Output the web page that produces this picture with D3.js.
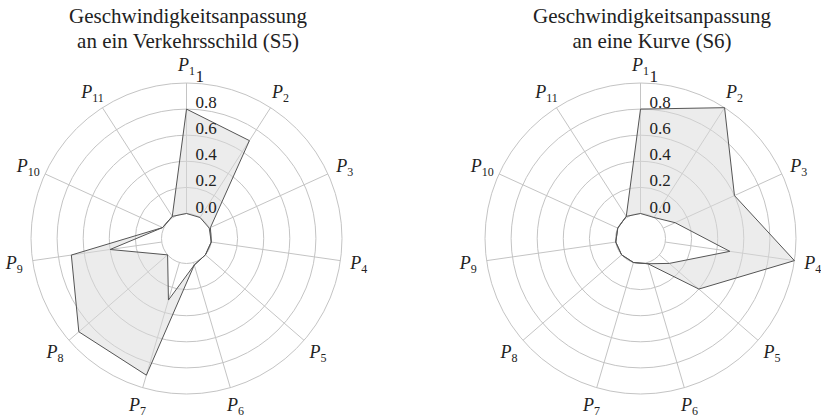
<!DOCTYPE html>
<html>
<head>
<meta charset="utf-8">
<script src="https://cdn.jsdelivr.net/npm/d3@7"></script>
<style>
  body { margin: 0; background: #fff; }
</style>
</head>
<body>
<script>
var categories = ['1', '2', '3', '4', '5', '6', '7', '8', '9', '10', '11'];
var tickValues = [0, 0.2, 0.4, 0.6, 0.8, 1];
var tickLabels = ['0.0', '0.2', '0.4', '0.6', '0.8', '1'];

// S5: Verkehrsschild
var s5Title = ['Geschwindigkeitsanpassung', 'an ein Verkehrsschild (S5)'];
var s5Low  = [0, 0, 0, 0, 0, 0.02, 0.3, 0, 0.4, 0.01, 0.01];
var s5High = [0.8, 0.7, 0.01, 0, 0, 0.02, 0.9, 0.9, 0.7, 0.01, 0.01];

// S6: Kurve
var s6Title = ['Geschwindigkeitsanpassung', 'an eine Kurve (S6)'];
var s6Low  = [0, 0, 0.1, 0.5, 0.1, 0.01, 0, 0, 0, 0, 0.01];
var s6High = [0.8, 1.0, 0.6, 1.0, 0.4, 0.01, 0, 0, 0, 0, 0.01];

var width = 821, height = 417;
var innerR = 25, outerR = 155.5;
var serif = '"Liberation Serif"';

var svg = d3.select('body').append('svg')
  .attr('width', width)
  .attr('height', height);

var angle = d3.scaleLinear()
  .domain([0, categories.length])
  .range([0, 2 * Math.PI]);

var r = d3.scaleLinear()
  .domain([0, 1])
  .range([innerR, outerR]);

var radarLine = d3.lineRadial()
  .angle(function(d, i) { return angle(i); })
  .radius(function(d) { return r(d); })
  .curve(d3.curveLinearClosed);

function drawRadar(cx, cy, titleX, title, low, high) {
  var g = svg.append('g')
    .attr('transform', 'translate(' + cx + ',' + cy + ')');

  // title
  svg.append('text')
    .attr('x', titleX)
    .attr('y', 23)
    .attr('text-anchor', 'middle')
    .style('font-family', serif)
    .style('font-size', '21px')
    .style('fill', '#222')
    .selectAll('tspan')
    .data(title)
    .enter().append('tspan')
      .attr('x', titleX)
      .attr('dy', function(d, i) { return i ? 25 : 0; })
      .text(function(d) { return d; });

  // grid
  g.selectAll('.ring')
    .data(tickValues)
    .enter().append('circle')
      .attr('class', 'ring')
      .attr('r', function(d) { return r(d); })
      .attr('fill', 'none')
      .attr('stroke', '#c4c4c4');

  g.selectAll('.spoke')
    .data(categories)
    .enter().append('line')
      .attr('class', 'spoke')
      .attr('x1', function(d, i) { return r(0) * Math.sin(angle(i)); })
      .attr('y1', function(d, i) { return -r(0) * Math.cos(angle(i)); })
      .attr('x2', function(d, i) { return r(1) * Math.sin(angle(i)); })
      .attr('y2', function(d, i) { return -r(1) * Math.cos(angle(i)); })
      .attr('stroke', '#c4c4c4');

  // band between low and high
  g.append('path')
    .attr('d', radarLine(high) + radarLine(low))
    .attr('fill', '#d9d9d9')
    .attr('fill-opacity', 0.5)
    .attr('fill-rule', 'evenodd');

  [low, high].forEach(function(s) {
    g.append('path')
      .attr('d', radarLine(s))
      .attr('fill', 'none')
      .attr('stroke', '#555');
  });

  // tick labels
  g.selectAll('.tick')
    .data(tickValues)
    .enter().append('text')
      .attr('class', 'tick')
      .attr('x', 9)
      .attr('y', function(d) { return -r(d) - 1; })
      .style('font-family', serif)
      .style('font-size', '17px')
      .style('fill', '#222')
      .text(function(d, i) { return tickLabels[i]; });

  // axis labels
  var labels = g.selectAll('.cat')
    .data(categories)
    .enter().append('text')
      .attr('class', 'cat')
      .attr('text-anchor', 'middle')
      .attr('x', function(d, i) { return 174 * Math.sin(angle(i)); })
      .attr('y', function(d, i) { return -174 * Math.cos(angle(i)) + 6; })
      .style('font-family', serif)
      .style('font-size', '18px')
      .style('fill', '#222');
  labels.append('tspan')
    .style('font-style', 'italic')
    .text('P');
  labels.append('tspan')
    .attr('dy', 4)
    .style('font-size', '12px')
    .text(function(d) { return d; });
}

drawRadar(186.5, 238.5, 188, s5Title, s5Low, s5High);
drawRadar(640.5, 238.5, 652, s6Title, s6Low, s6High);
</script>
</body>
</html>
